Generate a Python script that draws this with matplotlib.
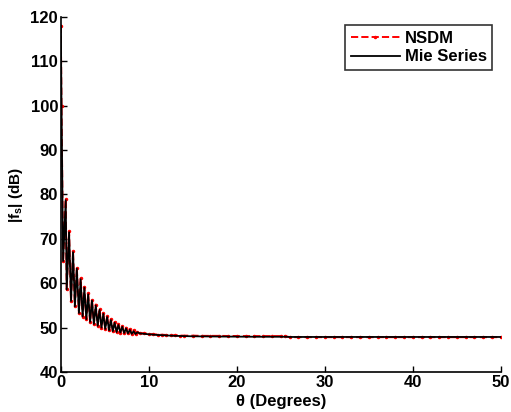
import matplotlib
matplotlib.use("Agg")
import matplotlib.pyplot as plt

plt.rcParams['font.family'] = ['Liberation Sans', 'DejaVu Sans']
plt.rcParams['font.weight'] = 'bold'
plt.rcParams['mathtext.fontset'] = 'custom'
plt.rcParams['mathtext.rm'] = 'Liberation Sans:bold'
plt.rcParams['mathtext.bf'] = 'Liberation Sans:bold'
plt.rcParams['mathtext.it'] = 'Liberation Sans:bold'

# Angle samples (degrees) and scattered field magnitude (dB)
theta_mie = [0.0, 0.08, 0.26, 0.56, 0.67, 0.94, 1.16, 1.39, 1.60, 1.82, 2.06, 2.25, 2.48,
             2.68, 2.90, 3.11, 3.33, 3.54, 3.76, 3.97, 4.19, 4.40, 4.62, 4.83, 5.05,
             5.26, 5.48, 5.69, 5.91, 6.12, 6.34, 6.55, 6.77, 6.98, 7.20, 7.41, 7.63,
             7.84, 8.06, 8.27, 8.49, 8.70, 9.0, 9.5, 10.0, 11.0, 12.0, 13.0, 15.0,
             18.0, 22.0, 25.5, 26.0, 30.0, 35.0, 40.0, 45.0, 50.0]
mie_db = [118.0, 100.0, 65.0, 78.7, 58.6, 71.5, 56.0, 67.0, 54.8, 63.3, 53.3, 60.9, 52.5,
          59.0, 51.9, 57.5, 51.3, 56.1, 50.8, 55.0, 50.4, 54.0, 50.0, 53.1, 49.7,
          52.4, 49.4, 51.7, 49.2, 51.1, 49.0, 50.6, 48.9, 50.2, 48.8, 49.8, 48.7,
          49.5, 48.6, 49.2, 48.55, 48.95, 48.7, 48.6, 48.5, 48.35, 48.25, 48.15, 48.05,
          48.0, 47.95, 47.95, 47.9, 47.9, 47.9, 47.9, 47.9, 47.9]

theta_nsdm = [0.0, 0.08, 0.26, 0.56, 0.67, 0.94, 1.16, 1.39, 1.60, 1.82, 2.06, 2.25, 2.48,
              2.68, 2.90, 3.11, 3.33, 3.54, 3.76, 3.97, 4.19, 4.40, 4.62, 4.83, 5.05,
              5.26, 5.48, 5.69, 5.91, 6.12, 6.34, 6.55, 6.77, 6.98, 7.20, 7.41, 7.63,
              7.84, 8.06, 8.27, 8.49, 8.70, 9.0, 9.5, 10.0, 10.5, 11.0, 11.5, 12.0,
              12.5, 13.0, 13.5, 14.0, 15.0, 16.0, 17.0, 18.0, 19.0, 20.0, 21.0, 22.0,
              23.0, 24.0, 25.0, 25.5, 26.0, 27.0, 28.0, 29.0, 30.0, 31.0, 32.0, 33.0,
              34.0, 35.0, 36.0, 37.0, 38.0, 39.0, 40.0, 41.0, 42.0, 43.0, 44.0, 45.0,
              46.0, 47.0, 48.0, 49.0, 50.0]
nsdm_db = [118.0, 100.0, 65.0, 78.9, 58.6, 71.7, 56.0, 67.2, 54.8, 63.5, 53.3, 61.1, 52.5,
           59.2, 51.9, 57.7, 51.3, 56.3, 50.8, 55.2, 50.4, 54.2, 50.0, 53.3, 49.7,
           52.6, 49.4, 51.9, 49.2, 51.3, 49.0, 50.8, 48.9, 50.4, 48.8, 50.0, 48.7,
           49.7, 48.6, 49.4, 48.6, 49.1, 48.8, 48.7, 48.6, 48.5, 48.45, 48.4, 48.35,
           48.3, 48.25, 48.22, 48.2, 48.2, 48.15, 48.15, 48.15, 48.12, 48.12, 48.1, 48.1,
           48.1, 48.1, 48.1, 48.1, 47.85, 47.85, 47.85, 47.85, 47.85, 47.85, 47.85, 47.85,
           47.85, 47.85, 47.85, 47.85, 47.85, 47.85, 47.85, 47.85, 47.85, 47.85, 47.85, 47.85,
           47.85, 47.85, 47.85, 47.85, 47.85]

fig = plt.figure(figsize=(5.11, 4.12), dpi=100)
ax = fig.add_axes([0.119, 0.097, 0.861, 0.862])

ax.plot(theta_nsdm, nsdm_db, color='red', linestyle='--', marker='.', markersize=3,
        linewidth=1.4, label='NSDM')
ax.plot(theta_mie, mie_db, color='black', linestyle='-', linewidth=1.3, label='Mie Series')

ax.set_xlim(0, 50)
ax.set_ylim(40, 120)
ax.set_xticks([0, 10, 20, 30, 40, 50])
ax.set_yticks(range(40, 121, 10))
ax.tick_params(direction='in', length=4, width=1, labelsize=12, pad=2)
for lbl in ax.get_xticklabels() + ax.get_yticklabels():
    lbl.set_fontweight('bold')
ax.spines['top'].set_visible(False)
ax.spines['right'].set_visible(False)
ax.spines['left'].set_linewidth(1.2)
ax.spines['bottom'].set_linewidth(1.2)

ax.set_xlabel('θ (Degrees)', fontsize=12, fontweight='bold', labelpad=3)
ax.set_ylabel(r'|f$_\mathregular{s}$| (dB)', fontsize=11, fontweight='bold', labelpad=4)

leg = ax.legend(loc='upper right', fontsize=12, frameon=True, fancybox=False,
                edgecolor='black', handlelength=2.9, borderaxespad=0.5,
                borderpad=0.35, labelspacing=0.2, handletextpad=0.3)
leg.get_frame().set_linewidth(1.2)
for t in leg.get_texts():
    t.set_fontweight('bold')

fig.savefig('out.png', dpi=100)
